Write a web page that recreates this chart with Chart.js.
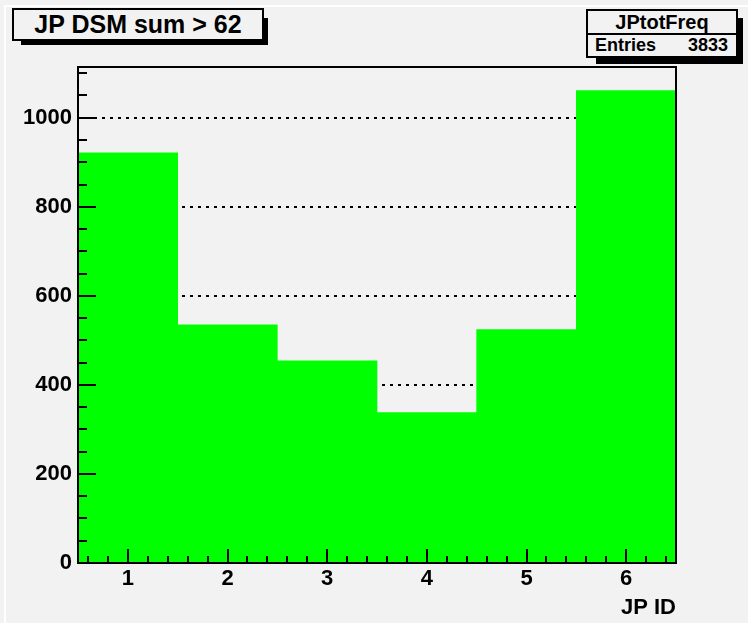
<!DOCTYPE html>
<html>
<head>
<meta charset="utf-8">
<script src="https://cdn.jsdelivr.net/npm/chart.js@4/dist/chart.umd.min.js"></script>
<style>
    body { margin: 0; background: #f2f2f2; }
    #wrap { position: relative; width: 748px; height: 623px; overflow: hidden; font-family: "Liberation Sans", Arial, sans-serif; font-weight: bold; }
    #c { position: absolute; left: 0; top: 0; }
    .edge { position: absolute; background: #fff; }
    .shadow { position: absolute; background: #000; }
    .box { position: absolute; background: #f2f2f2; border: 2px solid #000; box-sizing: border-box; color: #000; }
</style>
</head>
<body>
<div id="wrap">
    <div class="edge" style="left:4px;top:5px;width:2px;height:618px;"></div>
    <div class="edge" style="left:4px;top:5px;width:744px;height:2px;"></div>
    <canvas id="c" width="748" height="623"></canvas>

    <div class="shadow" style="left:21px;top:18px;width:247px;height:27px;"></div>
    <div class="box" style="left:12px;top:8px;width:252px;height:33px;font-size:25px;line-height:29px;text-align:center;">JP DSM sum &gt; 62</div>

    <div class="shadow" style="left:596px;top:18px;width:147px;height:46px;"></div>
    <div class="box" style="left:586px;top:9px;width:152px;height:49px;">
        <div style="height:22px;border-bottom:2px solid #000;font-size:20px;line-height:23px;text-align:center;">JPtotFreq</div>
        <div style="font-size:18px;line-height:21px;padding:0 8px 0 7px;display:flex;justify-content:space-between;"><span>Entries</span><span>3833</span></div>
    </div>
</div>
<script>
// histogram JPtotFreq
var binCenters = [1, 2, 3, 4, 5, 6];
var counts = [921, 535, 454, 338, 524, 1061];
var xTickValues = [1, 2, 3, 4, 5, 6];
var yTickValues = [0, 200, 400, 600, 800, 1000];
var xMin = 0.5, xMax = 6.5;
var yMax = 1114;

var FONT = "'Liberation Sans', Arial, sans-serif";

// ROOT style frame with inward ticks
var rootFrame = {
    id: "rootFrame",
    afterDatasetsDraw: function (chart) {
        var ctx = chart.ctx;
        var a = chart.chartArea;
        var xs = chart.scales.x;
        var ys = chart.scales.y;
        ctx.save();
        ctx.strokeStyle = "#000";
        ctx.lineWidth = 2;
        ctx.beginPath();
        for (var v = 0; v <= yMax; v += 50) {
            var py = Math.round(ys.getPixelForValue(v));
            var len = (v % 200 === 0) ? 18 : 9;
            ctx.moveTo(a.left, py);
            ctx.lineTo(a.left + len, py);
        }
        for (var i = 3; i <= 32; i++) {
            var xv = i * 0.2;
            var px = Math.round(xs.getPixelForValue(xv));
            var major = Math.abs(xv - Math.round(xv)) < 1e-6;
            ctx.moveTo(px, a.bottom);
            ctx.lineTo(px, a.bottom - (major ? 14 : 7));
        }
        ctx.stroke();
        ctx.strokeRect(a.left, a.top, a.right - a.left, a.bottom - a.top);
        ctx.restore();
    }
};

var ctx = document.getElementById("c").getContext("2d");
var chart = new Chart(ctx, {
    type: "bar",
    data: {
        datasets: [
            {
                label: "JPtotFreq",
                data: binCenters.map(function (x, i) { return { x: x, y: counts[i] }; }),
                backgroundColor: "#00ff00",
                borderWidth: 0,
                barPercentage: 1,
                categoryPercentage: 1,
            },
        ],
    },
    options: {
        responsive: false,
        animation: false,
        layout: { padding: { left: 0, top: 67, right: 72, bottom: 0 } },
        plugins: {
            legend: { display: false },
            title: { display: false },
            tooltip: { enabled: false },
        },
        scales: {
            x: {
                type: "linear",
                offset: false,
                min: xMin,
                max: xMax,
                afterBuildTicks: function (s) { s.ticks = xTickValues.map(function (v) { return { value: v }; }); },
                afterFit: function (s) { s.height = 60; },
                grid: { display: false, drawTicks: false, offset: false },
                border: { display: false },
                ticks: {
                    color: "#000", padding: 3, maxRotation: 0,
                    font: { family: FONT, size: 22, weight: "bold" },
                    callback: function (v) { return String(v); },
                },
                title: {
                    display: true,
                    text: "JP ID",
                    align: "end",
                    color: "#000",
                    padding: { top: 0, bottom: 2 },
                    font: { family: FONT, size: 22, weight: "bold" },
                },
            },
            y: {
                min: 0,
                max: yMax,
                afterBuildTicks: function (s) { s.ticks = yTickValues.map(function (v) { return { value: v }; }); },
                afterFit: function (s) { s.width = 78; },
                grid: {
                    drawTicks: false,
                    lineWidth: 2,
                    color: function (c) { return c.tick && c.tick.value === 0 ? "rgba(0,0,0,0)" : "#000"; },
                },
                border: { display: false, dash: [3, 5] },
                ticks: {
                    color: "#000", padding: 6,
                    font: { family: FONT, size: 22, weight: "bold" },
                    callback: function (v) { return String(v); },
                },
            },
        },
    },
    plugins: [rootFrame],
});
</script>
</body>
</html>
